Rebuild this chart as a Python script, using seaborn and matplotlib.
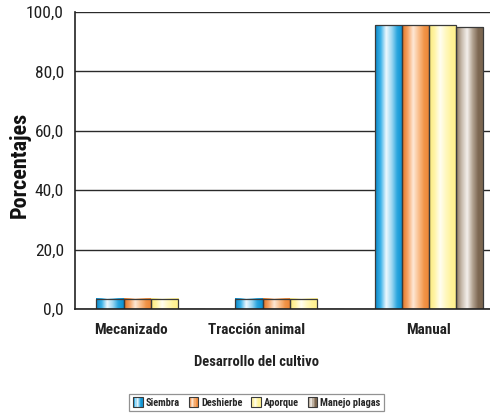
import numpy as np
import pandas as pd
import matplotlib
matplotlib.use("Agg")
import matplotlib.pyplot as plt
import seaborn as sns
from matplotlib import font_manager
from matplotlib.colors import LinearSegmentedColormap
from matplotlib.patches import Rectangle, Patch
from matplotlib.legend_handler import HandlerBase

# ---------------- data ----------------
categorias = ["Mecanizado", "Tracción animal", "Manual"]
series = ["Siembra", "Deshierbe", "Aporque", "Manejo plagas"]
siembra = [3.4, 3.4, 95.6]
deshierbe = [3.4, 3.4, 95.6]
aporque = [3.4, 3.4, 95.6]
manejo_plagas = [0.0, 0.0, 94.9]
y_ticks = [0, 20, 40, 60, 80, 100]
y_tick_labels = ["0,0", "20,0", "40,0", "60,0", "80,0", "100,0"]
x_label = "Desarrollo del cultivo"
y_label = "Porcentajes"

# ---------------- style ----------------
base_colors = ["#0e98d8", "#f08c3a", "#fff38c", "#7b6650"]
gradient_stops = [
    ["#0a86c6", "#3db3e9", "#eef8fd", "#9fd8f2", "#2aa6de", "#0a8fd0"],
    ["#e27524", "#f5a466", "#fee8d6", "#f9be8c", "#f29448", "#ec8434"],
    ["#fbe97a", "#fff4a8", "#fffef2", "#fff8c0", "#fff39a", "#fff08a"],
    ["#8a765f", "#c9bcae", "#f4f0ec", "#b3a391", "#7d6852", "#7b6650"],
]
cmaps = [LinearSegmentedColormap.from_list(f"g{i}", s) for i, s in enumerate(gradient_stops)]


def pick_font(fams):
    for f in fams:
        try:
            font_manager.findfont(font_manager.FontProperties(family=f), fallback_to_default=False)
            return f
        except Exception:
            pass
    return "DejaVu Sans"


sns.set_theme(style="white")
fam = pick_font(["Liberation Sans Narrow", "Roboto Condensed", "DejaVu Sans"])
plt.rcParams["font.family"] = [fam, "DejaVu Sans"]
plt.rcParams["font.stretch"] = "condensed"

df = pd.DataFrame({
    "categoria": np.repeat(categorias, len(series)),
    "serie": series * len(categorias),
    "valor": np.array([siembra, deshierbe, aporque, manejo_plagas]).T.ravel(),
})

fig = plt.figure(figsize=(4.9, 4.13), dpi=100)
ax = fig.add_axes([75 / 490, (413 - 309) / 413, 420 / 490, 297 / 413])

sns.barplot(data=df, x="categoria", y="valor", hue="serie", order=categorias,
            hue_order=series, palette=base_colors, width=0.78, gap=0, dodge=True,
            saturation=1, edgecolor="#3a3a3a", linewidth=0.9, legend=False,
            errorbar=None, ax=ax)

xlim = (-0.544, 2.476)
ylim = (0, 100)
grad = np.linspace(0, 1, 64).reshape(1, -1)
for i, cont in enumerate(ax.containers):
    for bar in cont:
        h = bar.get_height()
        if h <= 0:
            continue
        x0 = bar.get_x()
        x1 = x0 + bar.get_width()
        bar.set_facecolor("none")
        ax.imshow(grad, cmap=cmaps[i], extent=[x0, x1, 0, h], aspect="auto",
                  zorder=bar.get_zorder() - 0.01, interpolation="bilinear")
ax.set_xlim(*xlim)
ax.set_ylim(*ylim)

# grid and spines
ax.set_axisbelow(True)
ax.yaxis.grid(True, color="#2a2a2a", linewidth=1.0)
ax.xaxis.grid(False)
for s in ["top", "right"]:
    ax.spines[s].set_visible(False)
for s in ["left", "bottom"]:
    ax.spines[s].set_color("#222222")
    ax.spines[s].set_linewidth(1.2)

ax.set_yticks(y_ticks)
ax.set_yticklabels(y_tick_labels, fontsize=12.5, color="#1e1e1e")
ax.tick_params(axis="y", length=0, pad=8)

# category labels and separator ticks
ax.set_xticks([-0.145, 0.76, 2.0])
ax.set_xticklabels(categorias, fontsize=11, fontweight="bold", color="#222222")
ax.tick_params(axis="x", which="major", length=0, pad=10)
ax.set_xticks([0.36, 1.43], minor=True)
ax.tick_params(axis="x", which="minor", length=5, width=1, color="#555555", direction="out")

ax.set_xlabel(x_label, fontsize=10.5, fontweight="bold", color="#222222")
ax.xaxis.set_label_coords((256.5 - 75) / 420, -0.155)
ax.set_ylabel(y_label, fontsize=16, fontweight="bold", color="#111111")
ax.yaxis.set_label_coords((31 - 75) / 420, 0.485)


class HandlerGradient(HandlerBase):
    def __init__(self, cmap, **kw):
        super().__init__(**kw)
        self.cmap = cmap

    def create_artists(self, legend, orig_handle, xdescent, ydescent, width, height, fontsize, trans):
        side = min(width, height * 1.1)
        x0 = -xdescent + (width - side) / 2
        y0 = -ydescent + (height - side) / 2
        n = 8
        arts = []
        for k in range(n):
            c = self.cmap((k + 0.5) / n)
            r = Rectangle((x0 + side * k / n, y0), side / n, side, facecolor=c,
                          edgecolor="none", transform=trans)
            arts.append(r)
        arts.append(Rectangle((x0, y0), side, side, facecolor="none",
                              edgecolor="#3a3a3a", linewidth=0.8, transform=trans))
        return arts


handles = [Patch(facecolor=c, label=s) for c, s in zip(base_colors, series)]
leg = fig.legend(handles=handles, labels=series, loc="center",
                 bbox_to_anchor=(256.5 / 490, 10.5 / 413), ncol=4,
                 prop={"size": 7.5, "weight": "bold"}, frameon=True, fancybox=False,
                 edgecolor="#777777", handlelength=1.0, handleheight=0.9,
                 handletextpad=0.25, columnspacing=0.8, borderpad=0.35,
                 handler_map={h: HandlerGradient(cm) for h, cm in zip(handles, cmaps)})
leg.get_frame().set_linewidth(0.9)

fig.savefig("out.png", dpi=100)
